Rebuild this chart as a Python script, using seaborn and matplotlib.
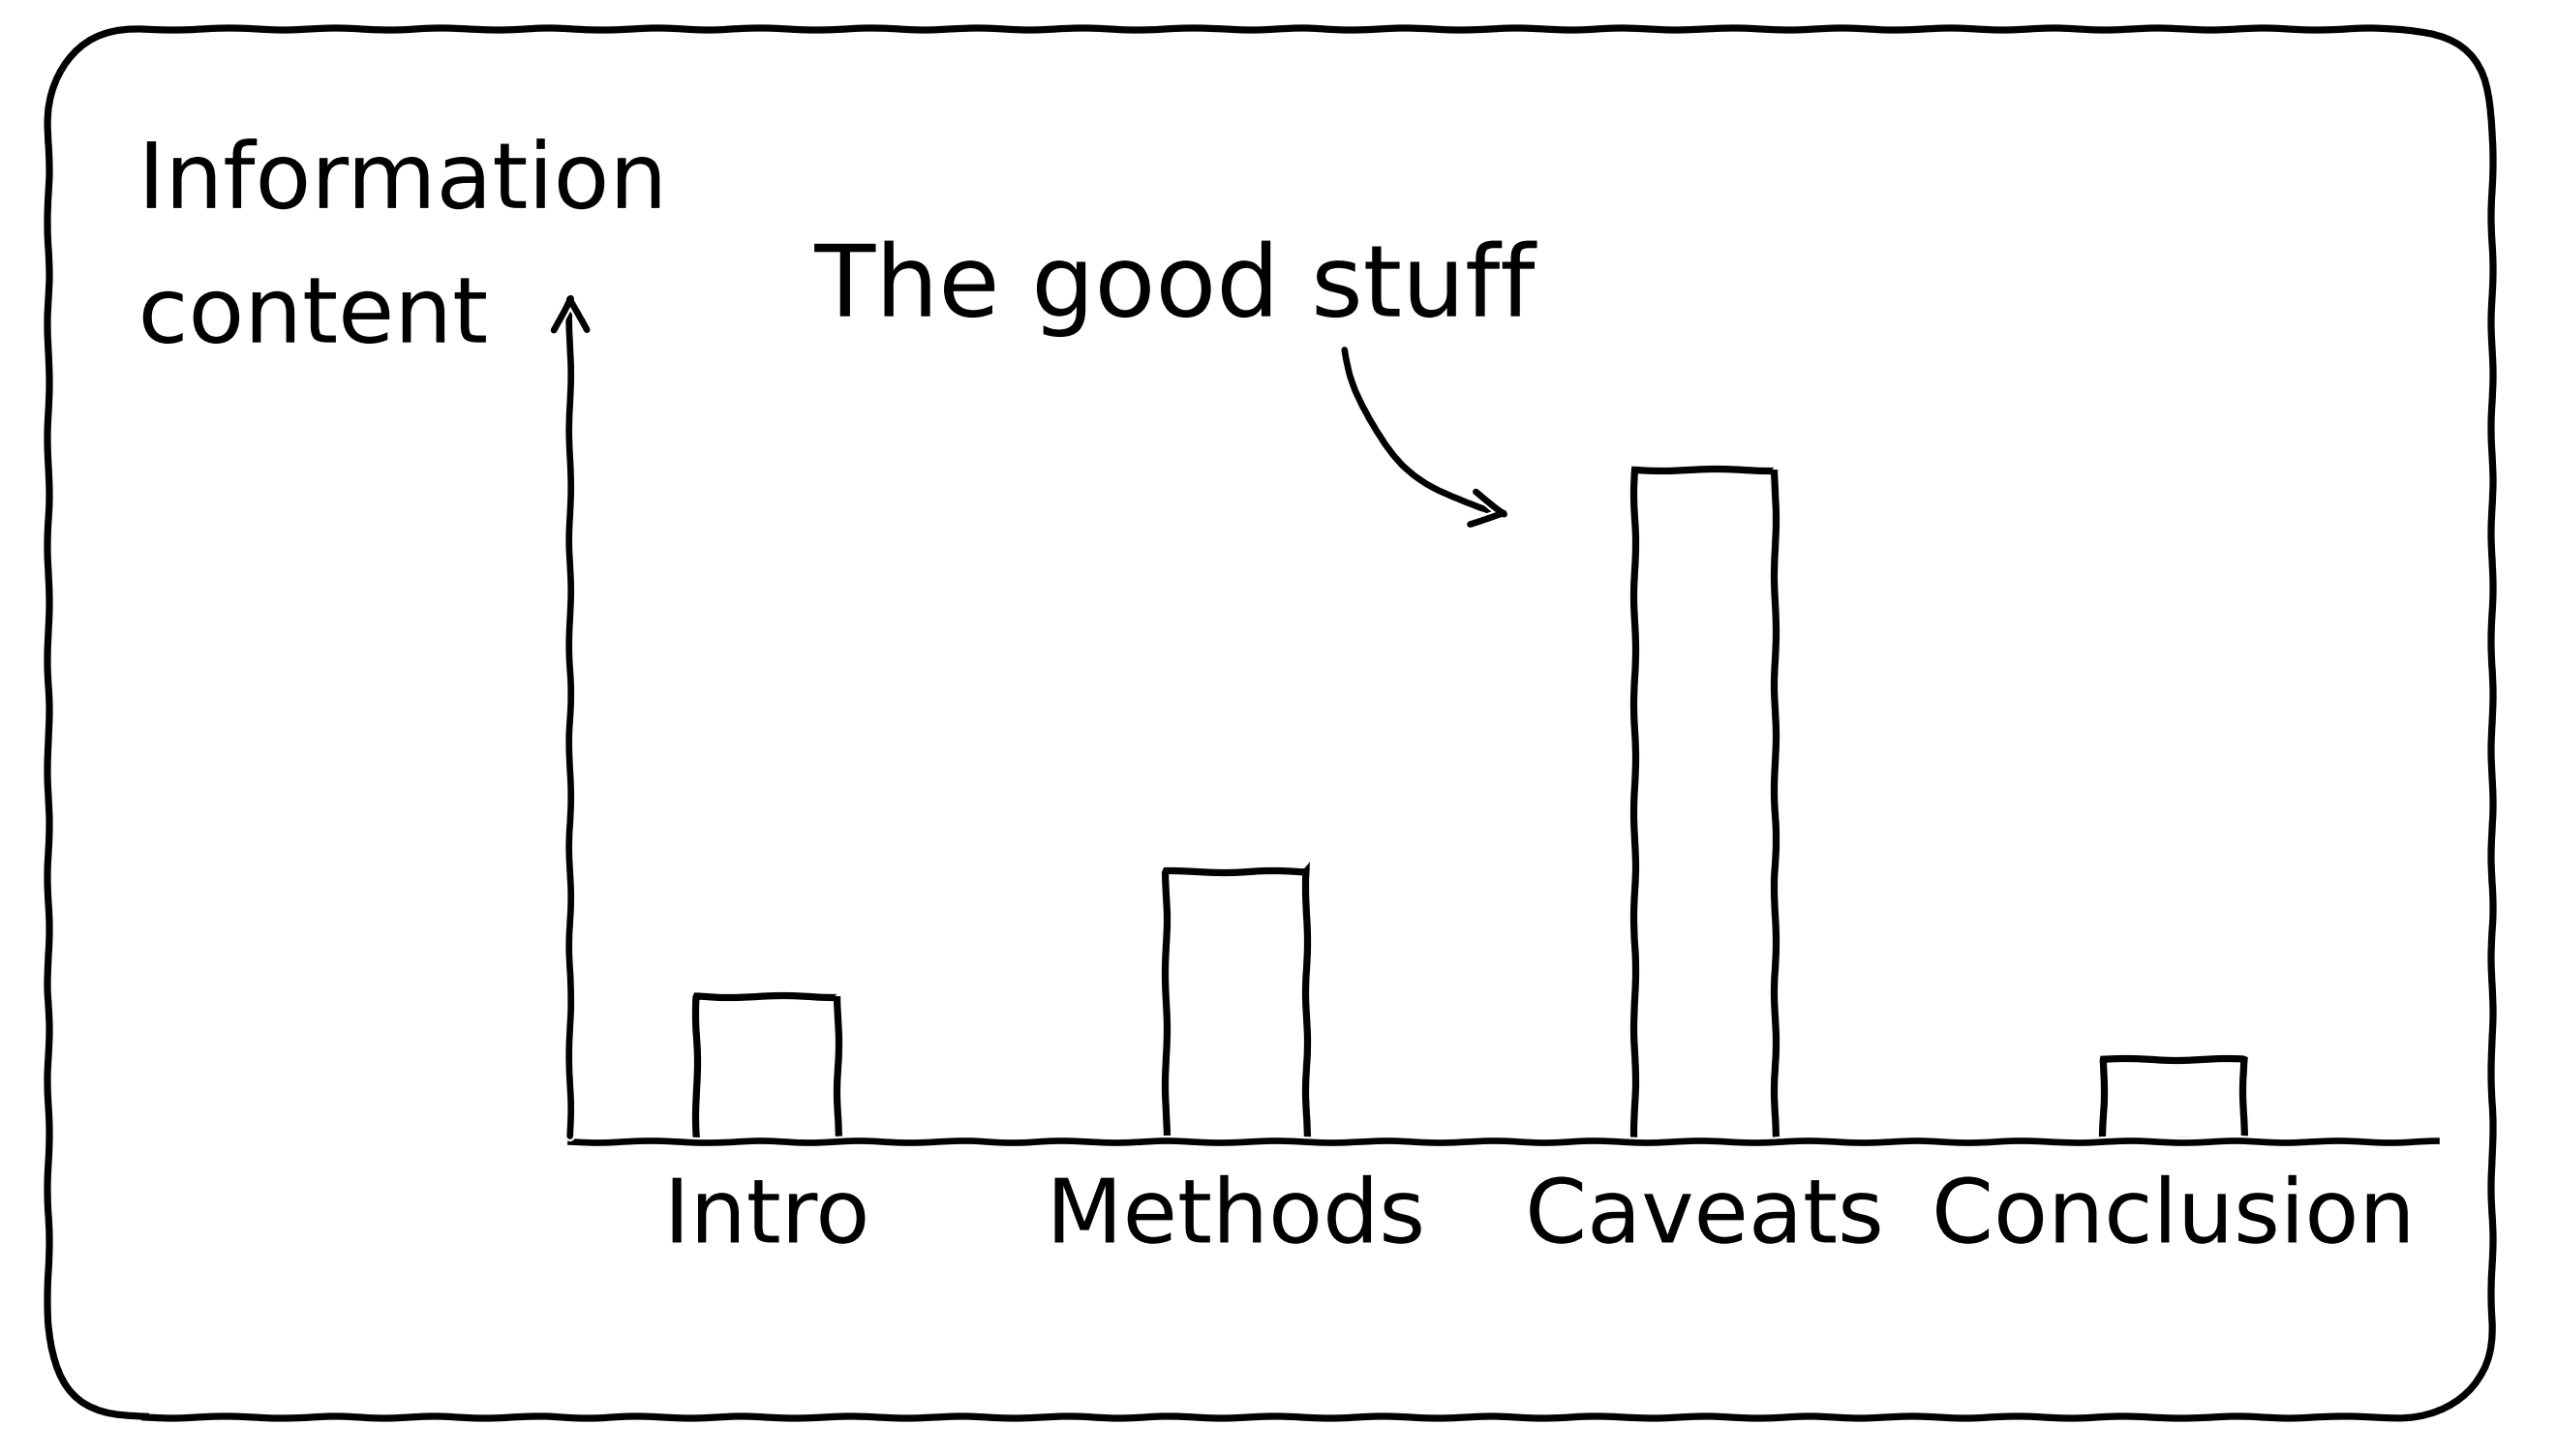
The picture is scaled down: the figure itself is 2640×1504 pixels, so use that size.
import matplotlib
matplotlib.use("Agg")
import matplotlib.pyplot as plt
from matplotlib.patches import FancyBboxPatch
import pandas as pd
import seaborn as sns

# section of a paper vs how much information it holds
sections = ["Intro", "Methods", "Caveats", "Conclusion"]
info = [2.2, 4.1, 10.2, 1.25]

df = pd.DataFrame({"section": sections, "info": info})

sns.set_style("white")
plt.xkcd(scale=1, length=120, randomness=2)
plt.rcParams["font.family"] = ["DejaVu Sans"]
plt.rcParams["text.color"] = "black"
plt.rcParams["xtick.color"] = "black"
plt.rcParams["xtick.labelcolor"] = "black"

fig = plt.figure(figsize=(13.2, 7.52), dpi=200)
ax = fig.add_axes([0.223, 0.216, 0.730, 0.588])

sns.barplot(data=df, x="section", y="info", order=sections, width=0.3,
            color="white", edgecolor="black", linewidth=2.6, ax=ax)

ax.set_xlim(-0.42, 3.56)
ax.set_ylim(0, 13)
ax.set_xlabel("")
ax.set_ylabel("")
ax.set_yticks([])
ax.tick_params(axis="x", length=0, pad=12, labelsize=33, labelcolor="black")
for s in ["top", "right", "left"]:
    ax.spines[s].set_visible(False)
ax.spines["bottom"].set_linewidth(2.4)
ax.spines["bottom"].set_color("black")

# y axis with arrow head
ax.annotate("", xy=(0, 1.0), xytext=(0, 0), xycoords="axes fraction",
            arrowprops=dict(arrowstyle="->", lw=2.4, mutation_scale=30,
                            color="black"))

# annotation pointing at caveats
ax.text(0.87, 12.95, "The good stuff", fontsize=37, ha="center", va="center",
        color="black", clip_on=False)
ax.annotate("", xy=(1.60, 9.5), xytext=(1.23, 12.1),
            arrowprops=dict(arrowstyle="->", lw=2.4, mutation_scale=30,
                            color="black", connectionstyle="arc3,rad=0.35"),
            annotation_clip=False)

fig.text(0.054, 0.905, "Information\ncontent", fontsize=34, ha="left",
         va="top", linespacing=1.65, color="black")

# hand drawn rounded frame around everything
frame = FancyBboxPatch((0.25, 0.2), 12.62, 7.17,
                       boxstyle="round,pad=0,rounding_size=0.5",
                       transform=fig.dpi_scale_trans, fill=False,
                       edgecolor="black", linewidth=2.6)
fig.patches.append(frame)

fig.savefig("out.png", dpi=200, facecolor="white")
